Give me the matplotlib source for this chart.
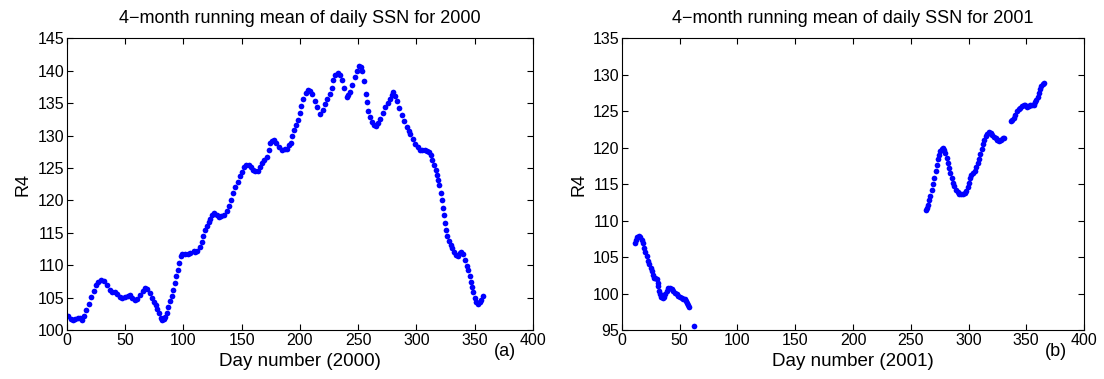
import numpy as np
import matplotlib
matplotlib.use("Agg")
from matplotlib import pyplot as plt

plt.rcParams['font.family'] = ['Liberation Sans', 'DejaVu Sans']

# 4-month running mean, 2000 (day number, R4)
days_2000 = [1, 3, 5, 7, 9.5, 11, 13, 15, 16.7, 19, 21, 23, 25, 27, 29.6, 32, 34, 36.8, 39, 41,
             43, 45.4, 47.5, 49.7, 52, 54, 56, 58.3, 60.5, 62.6, 65, 67, 69, 71, 72.7, 74.5, 76,
             77.5, 79, 80.5, 81.5, 83, 84.2, 85.5, 87, 88.5, 90, 91.4, 92.7, 94, 95, 96.3, 97.7,
             99, 101.4, 103.5, 105.7, 108.6, 110, 112, 114, 115.5, 117, 118.7, 120, 121.5, 123,
             124.5, 126.4, 128.5, 130.2, 132.3, 134.5, 137.4, 139, 140.8, 142.5, 144.5, 146.5,
             148.9, 150.5, 152.3, 154, 156, 158, 159.8, 161.8, 163.8, 165.5, 167.5, 169.5, 171.3,
             173, 174.7, 176, 177.6, 179.5, 181.9, 184.8, 187, 189, 190.5, 192, 193.5, 194.8,
             196.5, 198.3, 199.8, 201.1, 202.9, 204.9, 207.2, 209, 210.6, 212.5, 214.3, 217.2,
             219.5, 221.5, 223.5, 225.8, 227.2, 228.7, 230.5, 232.4, 234, 235.8, 237.5, 240.1,
             241.5, 243, 245, 247.3, 249, 250.7, 252.2, 253.6, 255, 256.4, 257.5, 258.7, 260,
             261.6, 263.3, 265, 267, 268.8, 271, 273.1, 275.2, 277.4, 279, 280.2, 281.6, 283.1,
             285.2, 287.4, 289.5, 291.7, 293.2, 294.6, 296.8, 298.9, 301, 303.2, 305.2, 307.4,
             309, 310.8, 312.3, 313.7, 315.1, 316.6, 317.6, 318.6, 319.5, 320.9, 321.7, 322.8,
             323.7, 324.6, 325.7, 326.6, 328, 329.5, 330.9, 332.3, 333.8, 335.7, 337, 338.1,
             340.1, 341.5, 343, 344.3, 345.8, 346.7, 347.5, 348.7, 350.1, 351, 352.9, 354.2,
             355.3, 357]
r4_2000 = [102.1, 101.7, 101.6, 101.7, 101.9, 101.8, 101.6, 102.2, 103.1, 104.1, 105.1, 106.0,
           106.9, 107.4, 107.7, 107.5, 107.0, 106.2, 105.9, 105.9, 105.5, 105.1, 105.0, 105.1,
           105.2, 105.4, 105.0, 104.6, 104.8, 105.4, 106.1, 106.5, 106.4, 105.7, 104.9, 104.4,
           103.9, 103.3, 102.6, 101.9, 101.6, 101.7, 102.0, 102.7, 103.6, 104.5, 105.3, 106.2,
           107.2, 108.3, 109.2, 110.3, 111.4, 111.7, 111.7, 111.8, 111.9, 112.2, 112.1, 112.2,
           112.8, 113.6, 114.5, 115.4, 116.0, 116.7, 117.2, 117.7, 118.0, 117.7, 117.4, 117.6,
           117.7, 118.3, 119.1, 120.1, 121.1, 122.1, 122.9, 123.7, 124.4, 125.2, 125.5, 125.5,
           125.1, 124.7, 124.5, 124.6, 125.1, 125.7, 126.2, 126.7, 127.7, 128.8, 129.1, 129.3,
           128.9, 128.3, 127.8, 127.9, 128.0, 128.5, 128.8, 129.9, 130.9, 131.7, 132.4, 133.5,
           134.5, 135.7, 136.5, 137.0, 136.9, 136.4, 135.4, 134.4, 133.3, 134.0, 134.9, 135.6,
           136.4, 137.4, 138.5, 139.3, 139.7, 139.3, 138.5, 137.4, 136.0, 136.2, 136.7, 137.8,
           139.0, 140.0, 140.8, 140.6, 140.0, 138.4, 136.4, 135.1, 133.8, 132.8, 132.1, 131.6,
           131.5, 132.0, 132.6, 133.5, 134.4, 135.0, 135.6, 136.3, 136.7, 136.1, 135.4, 134.2,
           133.1, 132.2, 131.3, 130.7, 130.2, 129.4, 128.7, 128.2, 127.7, 127.8, 127.7, 127.6,
           127.4, 127.0, 126.2, 125.4, 124.7, 123.9, 123.1, 122.3, 121.2, 120.0, 118.9, 117.7,
           116.5, 115.5, 114.5, 113.8, 113.1, 112.6, 112.1, 111.6, 111.4, 111.9, 112.1, 111.7,
           110.8, 109.9, 109.2, 108.4, 107.4, 106.7, 105.8, 104.9, 104.4, 104.1, 104.3, 104.6,
           105.2]

# 2001 (gaps where no data)
days_2001 = [11.2, 12.3, 13.3, 15, 16, 17, 18, 19, 20.2, 21.3, 22.5, 23.6, 24.7, 25.7, 26.7,
             27.7, 29, 30, 30.8, 31.4, 32.2, 32.9, 34, 35.2, 36.2, 37.2, 38.6, 40.1, 41.5, 43,
             44.5, 45.9, 47.3, 48.7, 50.2, 51.6, 53, 54.5, 55.5, 56.5, 57.2, 57.7, 62,
             263, 264, 265, 266, 267, 268.2, 269.4, 270.5, 271.7, 272.7, 273.7, 274.7, 275.7,
             277, 278, 279, 280, 281.2, 282.4, 283.4, 284.4, 285.5, 286.7, 287.8, 289, 290.5,
             291.9, 293.6, 295.3, 296.8, 298.2, 299.4, 300.5, 301.5, 302.5, 304, 305.4, 306.8,
             308.3, 309.3, 310.3, 311.5, 312.6, 313.8, 314.9, 316.3, 317.8, 319.2, 320.7, 322.2,
             323.6, 325, 326.5, 327.5, 328.5, 329.5, 330.5,
             336.6, 337.8, 339.1, 340.5, 342, 343.5, 344.9, 346.3, 347.8, 349.3, 350.7, 352.2,
             353.6, 355, 356.5, 357.7, 358.8, 360, 361.1, 362.1, 363.1, 364.1, 365.1]
r4_2001 = [107.0, 107.4, 107.7, 107.9, 107.7, 107.4, 106.9, 106.3, 105.7, 105.1, 104.5, 104.0,
           103.5, 103.1, 102.6, 102.2, 102.1, 102.0, 101.5, 101.0, 100.4, 99.9, 99.6, 99.4,
           99.6, 99.9, 100.4, 100.8, 100.8, 100.6, 100.4, 100.1, 99.9, 99.7, 99.5, 99.4, 99.3,
           99.2, 99.0, 98.7, 98.4, 98.2, 95.6,
           111.4, 111.8, 112.2, 112.8, 113.4, 114.2, 115.0, 115.9, 116.8, 117.6, 118.4, 119.0,
           119.5, 119.8, 119.9, 119.7, 119.3, 118.6, 117.9, 117.2, 116.6, 115.9, 115.2, 114.7,
           114.2, 113.9, 113.7, 113.7, 113.7, 113.8, 114.1, 114.6, 115.2, 115.8, 116.3, 116.6,
           116.8, 117.3, 117.9, 118.5, 119.1, 119.8, 120.5, 121.1, 121.6, 121.9, 122.1, 122.0,
           121.8, 121.5, 121.3, 121.1, 120.9, 121.0, 121.1, 121.3, 121.4,
           123.6, 123.8, 124.1, 124.5, 125.0, 125.3, 125.5, 125.7, 125.9, 125.8, 125.6, 125.7,
           125.9, 125.9, 125.9, 126.2, 126.6, 127.0, 127.5, 128.0, 128.5, 128.7, 128.9]

fig = plt.figure(figsize=(11.04, 3.79), dpi=100)
ax1 = fig.add_axes([0.0607, 0.129, 0.422, 0.770])
ax2 = fig.add_axes([0.5634, 0.129, 0.4185, 0.770])

panels = [(ax1, days_2000, r4_2000, 2000, (100, 145), '(a)'),
          (ax2, days_2001, r4_2001, 2001, (95, 135), '(b)')]

for ax, d, r, yr, ylim, tag in panels:
    ax.plot(d, r, linestyle='none', marker='o', markersize=4.1,
            color='#0000ff', markeredgewidth=0)
    ax.set_xlim(0, 400)
    ax.set_ylim(*ylim)
    ax.set_xticks(np.arange(0, 401, 50))
    ax.set_yticks(np.arange(ylim[0], ylim[1] + 1, 5))
    ax.tick_params(direction='in', top=True, right=True, labelsize=11.5, length=4, pad=2)
    ax.set_title('4\u2212month running mean of daily SSN for %d' % yr, fontsize=13, pad=11)
    ax.set_xlabel('Day number (%d)' % yr, fontsize=13.5, labelpad=4)
    ax.set_ylabel('R4', fontsize=13, labelpad=4)
    ax.text(0.94, -0.075, tag, transform=ax.transAxes, fontsize=13, ha='center', va='center')

fig.savefig('out.png', dpi=100)
